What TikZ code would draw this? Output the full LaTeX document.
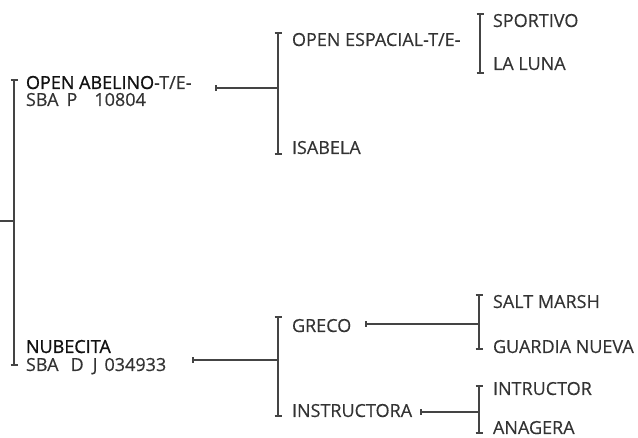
\documentclass[tikz,border=0pt]{standalone}
\usepackage{fontspec}
\setmainfont[FakeBold=0.35]{Open Sans}
\newfontfamily\strongfont[FakeBold=1.1]{Open Sans}
\definecolor{txt}{HTML}{333333}
\definecolor{strong}{HTML}{111111}
\definecolor{ln}{HTML}{444444}
\newcommand{\strongname}[1]{{\strongfont\color{strong}#1}}
\begin{document}
\begin{tikzpicture}[x=1pt,y=-1pt,
  lbl/.style={anchor=base west,inner sep=0pt,outer sep=0pt,font=\fontsize{18}{18}\selectfont,text=txt},
  bar/.style={draw=ln,line width=1.2pt},
  barcap/.style={draw=ln,line width=1.2pt},
]
\useasboundingbox (0,0) rectangle (638,438);
% nodes
\node[lbl] (a1) at (26,89) {\strongname{OPEN ABELINO}-T/E-};
\node[lbl] (a2) at (26,106) {SBA\hspace{8pt}P\hspace{17pt}10804};
\node[lbl] (b1) at (292,46) {OPEN ESPACIAL-T/E-};
\node[lbl] (b2) at (292,154) {ISABELA};
\node[lbl] (c1) at (493,27) {SPORTIVO};
\node[lbl] (c2) at (493,70) {LA LUNA};
\node[lbl] (n1) at (26,353) {\strongname{NUBECITA}};
\node[lbl] (n2) at (26,371) {SBA\hspace{12pt}D\hspace{9pt}J\hspace{7pt}034933};
\node[lbl] (g1) at (292,332) {GRECO};
\node[lbl] (g2) at (292,417) {INSTRUCTORA};
\node[lbl] (s1) at (493,308) {SALT MARSH};
\node[lbl] (s2) at (493,353) {GUARDIA NUEVA};
\node[lbl] (i1) at (493,395) {INTRUCTOR};
\node[lbl] (i2) at (493,434) {ANAGERA};
% bar coordinates
\coordinate (r0) at (0,221);
\coordinate (rt) at (14,80);  \coordinate (rb) at (14,365); \coordinate (rm) at (14,221);
\coordinate (at) at (216,88); \coordinate (am) at (278,88);
\coordinate (bt) at (278,33); \coordinate (bb) at (278,154);
\coordinate (ct) at (480,14); \coordinate (cb) at (480,73);
\coordinate (nt) at (193,360); \coordinate (nm) at (278,360);
\coordinate (gt) at (278,317); \coordinate (gb) at (278,416);
\coordinate (gr) at (366,324); \coordinate (gm) at (479,324);
\coordinate (st) at (479,295); \coordinate (sb) at (479,349);
\coordinate (ir) at (421,412); \coordinate (im) at (479,412);
\coordinate (it) at (479,386); \coordinate (ib) at (479,433);
% bars with end ticks
\foreach \t/\b in {rt/rb,bt/bb,ct/cb,gt/gb,st/sb,it/ib}{
  \draw[bar] (\t) -- (\b);
  \draw[barcap] ([xshift=-3.5pt]\t) -- ([xshift=3.5pt]\t);
  \draw[barcap] ([xshift=-3.5pt]\b) -- ([xshift=3.5pt]\b);
}
% horizontal connectors with start ticks
\draw[bar] (r0) -- (rm);
\foreach \s/\e in {at/am,nt/nm,gr/gm,ir/im}{
  \draw[bar] (\s) -- (\e);
  \draw[barcap] ([yshift=-3pt]\s) -- ([yshift=3pt]\s);
}
\end{tikzpicture}
\end{document}
